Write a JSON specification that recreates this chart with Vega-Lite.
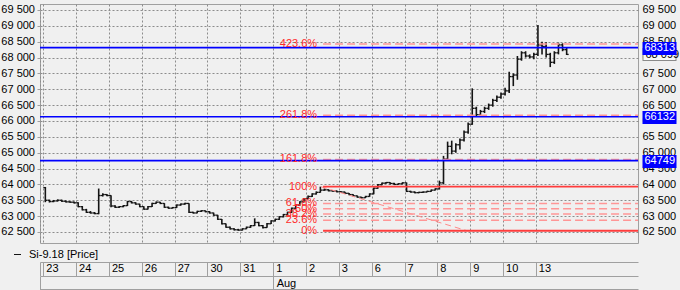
{
  "$schema": "https://vega.github.io/schema/vega-lite/v6.json",
  "width": 598,
  "height": 239,
  "autosize": {"type": "none"},
  "padding": {"left": 40, "top": 4, "right": 42, "bottom": 47},
  "background": "#f0f0f0",
  "config": {
    "font": "Liberation Sans",
    "view": {"stroke": "#a0a0a0", "strokeWidth": 1},
    "axis": {"labelFontSize": 11, "labelColor": "#000000", "labelOverlap": false, "labelFlush": false, "labelBound": false, "tickColor": "#a0a0a0", "domainColor": "#a0a0a0", "gridColor": "#8c8c8c", "gridDash": [2, 2], "grid": false}
  },
  "datasets": {
    "bars": [
      {"t":0.0625,"o":63900,"h":63920,"l":63440,"c":63500},
      {"t":0.1875,"o":63500,"h":63520,"l":63430,"c":63460},
      {"t":0.3125,"o":63460,"h":63510,"l":63440,"c":63480},
      {"t":0.4375,"o":63480,"h":63530,"l":63460,"c":63500},
      {"t":0.5625,"o":63500,"h":63520,"l":63450,"c":63470},
      {"t":0.6875,"o":63470,"h":63490,"l":63430,"c":63450},
      {"t":0.8125,"o":63450,"h":63470,"l":63420,"c":63440},
      {"t":0.9375,"o":63440,"h":63460,"l":63400,"c":63420},
      {"t":1.0625,"o":63420,"h":63440,"l":63280,"c":63300},
      {"t":1.1875,"o":63300,"h":63320,"l":63180,"c":63200},
      {"t":1.3125,"o":63200,"h":63230,"l":63100,"c":63120},
      {"t":1.4375,"o":63120,"h":63160,"l":63080,"c":63100},
      {"t":1.5625,"o":63100,"h":63130,"l":63060,"c":63080},
      {"t":1.6875,"o":63080,"h":63870,"l":63060,"c":63650},
      {"t":1.8125,"o":63650,"h":63720,"l":63620,"c":63680},
      {"t":1.9375,"o":63680,"h":63700,"l":63630,"c":63650},
      {"t":2.0625,"o":63650,"h":63660,"l":63280,"c":63320},
      {"t":2.1875,"o":63320,"h":63340,"l":63260,"c":63280},
      {"t":2.3125,"o":63280,"h":63320,"l":63260,"c":63300},
      {"t":2.4375,"o":63300,"h":63350,"l":63280,"c":63330},
      {"t":2.5625,"o":63330,"h":63480,"l":63320,"c":63460},
      {"t":2.6875,"o":63460,"h":63480,"l":63400,"c":63420},
      {"t":2.8125,"o":63420,"h":63440,"l":63360,"c":63380},
      {"t":2.9375,"o":63380,"h":63390,"l":63280,"c":63300},
      {"t":3.0625,"o":63300,"h":63310,"l":63200,"c":63220},
      {"t":3.1875,"o":63220,"h":63320,"l":63210,"c":63300},
      {"t":3.3125,"o":63300,"h":63420,"l":63290,"c":63400},
      {"t":3.4375,"o":63400,"h":63460,"l":63390,"c":63440},
      {"t":3.5625,"o":63440,"h":63450,"l":63380,"c":63400},
      {"t":3.6875,"o":63400,"h":63410,"l":63260,"c":63280},
      {"t":3.8125,"o":63280,"h":63300,"l":63230,"c":63250},
      {"t":3.9375,"o":63250,"h":63290,"l":63240,"c":63270},
      {"t":4.0625,"o":63270,"h":63370,"l":63260,"c":63350},
      {"t":4.1875,"o":63350,"h":63400,"l":63330,"c":63380},
      {"t":4.3125,"o":63380,"h":63420,"l":63360,"c":63400},
      {"t":4.4375,"o":63400,"h":63410,"l":63100,"c":63120},
      {"t":4.5625,"o":63120,"h":63140,"l":63080,"c":63100},
      {"t":4.6875,"o":63100,"h":63170,"l":63090,"c":63150},
      {"t":4.8125,"o":63150,"h":63190,"l":63130,"c":63170},
      {"t":4.9375,"o":63170,"h":63180,"l":63120,"c":63140},
      {"t":5.0625,"o":63140,"h":63160,"l":63080,"c":63100},
      {"t":5.1875,"o":63100,"h":63110,"l":63010,"c":63030},
      {"t":5.3125,"o":63030,"h":63040,"l":62880,"c":62900},
      {"t":5.4375,"o":62900,"h":62910,"l":62740,"c":62760},
      {"t":5.5625,"o":62760,"h":62770,"l":62630,"c":62650},
      {"t":5.6875,"o":62650,"h":62670,"l":62580,"c":62600},
      {"t":5.8125,"o":62600,"h":62620,"l":62550,"c":62570},
      {"t":5.9375,"o":62570,"h":62600,"l":62540,"c":62560},
      {"t":6.0625,"o":62560,"h":62620,"l":62545,"c":62600},
      {"t":6.1875,"o":62600,"h":62670,"l":62590,"c":62650},
      {"t":6.3125,"o":62650,"h":62720,"l":62630,"c":62700},
      {"t":6.4375,"o":62700,"h":62930,"l":62690,"c":62800},
      {"t":6.5625,"o":62800,"h":62820,"l":62680,"c":62700},
      {"t":6.6875,"o":62700,"h":62720,"l":62610,"c":62640},
      {"t":6.8125,"o":62640,"h":62780,"l":62630,"c":62760},
      {"t":6.9375,"o":62760,"h":62870,"l":62750,"c":62850},
      {"t":7.0625,"o":62850,"h":62920,"l":62830,"c":62900},
      {"t":7.1875,"o":62900,"h":63000,"l":62880,"c":62980},
      {"t":7.3125,"o":62980,"h":63070,"l":62960,"c":63050},
      {"t":7.4375,"o":63050,"h":63140,"l":63030,"c":63120},
      {"t":7.5625,"o":63120,"h":63270,"l":63100,"c":63250},
      {"t":7.6875,"o":63250,"h":63370,"l":63230,"c":63350},
      {"t":7.8125,"o":63350,"h":63470,"l":63330,"c":63450},
      {"t":7.9375,"o":63450,"h":63570,"l":63430,"c":63550},
      {"t":8.0625,"o":63550,"h":63650,"l":63530,"c":63620},
      {"t":8.1875,"o":63620,"h":63720,"l":63600,"c":63700},
      {"t":8.3125,"o":63700,"h":63780,"l":63680,"c":63750},
      {"t":8.4375,"o":63750,"h":63930,"l":63740,"c":63820},
      {"t":8.5625,"o":63820,"h":63870,"l":63800,"c":63830},
      {"t":8.6875,"o":63830,"h":63850,"l":63780,"c":63800},
      {"t":8.8125,"o":63800,"h":63820,"l":63770,"c":63790},
      {"t":8.9375,"o":63790,"h":63810,"l":63750,"c":63770},
      {"t":9.0625,"o":63770,"h":63790,"l":63740,"c":63760},
      {"t":9.1875,"o":63760,"h":63770,"l":63700,"c":63720},
      {"t":9.3125,"o":63720,"h":63730,"l":63660,"c":63680},
      {"t":9.4375,"o":63680,"h":63690,"l":63620,"c":63640},
      {"t":9.5625,"o":63640,"h":63650,"l":63580,"c":63600},
      {"t":9.6875,"o":63600,"h":63610,"l":63550,"c":63580},
      {"t":9.8125,"o":63580,"h":63640,"l":63570,"c":63620},
      {"t":9.9375,"o":63620,"h":63720,"l":63610,"c":63700},
      {"t":10.0625,"o":63700,"h":63900,"l":63690,"c":63880},
      {"t":10.1875,"o":63880,"h":64010,"l":63860,"c":63990},
      {"t":10.3125,"o":63990,"h":64060,"l":63970,"c":64040},
      {"t":10.4375,"o":64040,"h":64080,"l":64020,"c":64060},
      {"t":10.5625,"o":64060,"h":64070,"l":64000,"c":64030},
      {"t":10.6875,"o":64030,"h":64050,"l":63980,"c":64000},
      {"t":10.8125,"o":64000,"h":64040,"l":63990,"c":64020},
      {"t":10.9375,"o":64020,"h":64070,"l":64000,"c":64050},
      {"t":11.0625,"o":64050,"h":64060,"l":63760,"c":63780},
      {"t":11.1875,"o":63780,"h":63800,"l":63740,"c":63760},
      {"t":11.3125,"o":63760,"h":63780,"l":63720,"c":63740},
      {"t":11.4375,"o":63740,"h":63770,"l":63720,"c":63750},
      {"t":11.5625,"o":63750,"h":63780,"l":63730,"c":63760},
      {"t":11.6875,"o":63760,"h":63800,"l":63750,"c":63780},
      {"t":11.8125,"o":63780,"h":63840,"l":63770,"c":63820},
      {"t":11.9375,"o":63820,"h":63880,"l":63810,"c":63860},
      {"t":12.0625,"o":63860,"h":64120,"l":63840,"c":64050},
      {"t":12.1875,"o":64050,"h":64900,"l":64000,"c":64800},
      {"t":12.3125,"o":64800,"h":65350,"l":64780,"c":65200},
      {"t":12.4375,"o":65200,"h":65380,"l":64950,"c":65050},
      {"t":12.5625,"o":65050,"h":65300,"l":65000,"c":65250},
      {"t":12.6875,"o":65250,"h":65450,"l":65100,"c":65400},
      {"t":12.8125,"o":65400,"h":65700,"l":65350,"c":65650},
      {"t":12.9375,"o":65650,"h":65950,"l":65600,"c":65900},
      {"t":13.0625,"o":65900,"h":67030,"l":65880,"c":66400},
      {"t":13.1875,"o":66400,"h":66450,"l":66130,"c":66200},
      {"t":13.3125,"o":66200,"h":66350,"l":66150,"c":66300},
      {"t":13.4375,"o":66300,"h":66450,"l":66250,"c":66400},
      {"t":13.5625,"o":66400,"h":66550,"l":66350,"c":66500},
      {"t":13.6875,"o":66500,"h":66700,"l":66450,"c":66650},
      {"t":13.8125,"o":66650,"h":66800,"l":66600,"c":66750},
      {"t":13.9375,"o":66750,"h":66900,"l":66700,"c":66850},
      {"t":14.0625,"o":66850,"h":67050,"l":66800,"c":66950},
      {"t":14.1875,"o":66950,"h":67550,"l":66880,"c":67400},
      {"t":14.3125,"o":67400,"h":67500,"l":67100,"c":67450},
      {"t":14.4375,"o":67450,"h":68050,"l":67300,"c":67950},
      {"t":14.5625,"o":67950,"h":68200,"l":67900,"c":68150},
      {"t":14.6875,"o":68150,"h":68200,"l":68000,"c":68050},
      {"t":14.8125,"o":68050,"h":68100,"l":67980,"c":68020},
      {"t":14.9375,"o":68020,"h":68150,"l":67950,"c":68100},
      {"t":15.0625,"o":68100,"h":69030,"l":68050,"c":68400},
      {"t":15.1875,"o":68400,"h":68500,"l":68100,"c":68350},
      {"t":15.3125,"o":68350,"h":68480,"l":68000,"c":68100},
      {"t":15.4375,"o":68100,"h":68150,"l":67700,"c":67850},
      {"t":15.5625,"o":67850,"h":68200,"l":67800,"c":68150},
      {"t":15.6875,"o":68150,"h":68470,"l":68100,"c":68400},
      {"t":15.8125,"o":68400,"h":68450,"l":68200,"c":68250},
      {"t":15.9375,"o":68250,"h":68300,"l":68080,"c":68099}
    ],
    "blue": [{"level": 68313}, {"level": 66132}, {"level": 64749}],
    "fib": [
      {"label": "423.6%", "level": 68428},
      {"label": "261.8%", "level": 66179},
      {"label": "161.8%", "level": 64789},
      {"label": "100%", "level": 63930},
      {"label": "61.8%", "level": 63399},
      {"label": "50%", "level": 63235},
      {"label": "38.2%", "level": 63071},
      {"label": "23.6%", "level": 62868},
      {"label": "0%", "level": 62540}
    ],
    "diag": [{"t1": 8.45, "p1": 63930, "t2": 12.9, "p2": 62540}]
  },
  "resolve": {"axis": {"x": "independent", "y": "independent"}},
  "layer": [
    {
      "data": {"name": "bars"},
      "mark": {"type": "rule", "strokeWidth": 1.6},
      "encoding": {
        "x": {"field": "t", "type": "quantitative", "title": null,
          "scale": {"domain": [-0.1, 18.11], "nice": false, "zero": false},
          "axis": {"orient": "bottom", "values": [-0.1,0,1,2,3,4,5,6,7,8,9,10,11,12,13,14,15], "grid": true, "offset": 19, "domain": true, "tickSize": 13.5, "labelAlign": "left", "labelBaseline": "middle", "labelPadding": -7.2, "labelOffset": 2.5,
            "labelExpr": "datum.value < 0 ? '' : ['23','24','25','26','27','30','31','1','2','3','6','7','8','9','10','13'][round(datum.value)]"}},
        "y": {"field": "l", "type": "quantitative", "title": null,
          "scale": {"domain": [62153, 69689], "nice": false, "zero": false},
          "axis": {"orient": "left", "values": [62500,63000,63500,64000,64500,65000,65500,66000,66500,67000,67500,68000,68500,69000,69500], "grid": true, "domain": false, "tickSize": 3, "labelPadding": 2.5,
            "labelExpr": "replace(format(datum.value, ','), ',', ' ')"}},
        "y2": {"field": "h"},
        "color": {"datum": "Si-9.18 [Price]", "type": "nominal", "scale": {"range": ["#141414"]},
          "legend": {"orient": "none", "legendX": -28, "legendY": 245, "title": null, "symbolType": "stroke", "symbolSize": 49, "symbolStrokeWidth": 1, "symbolStrokeColor": "#333333", "labelFontSize": 11, "labelColor": "#000000", "labelOffset": 6}}
      }
    },
    {
      "data": {"name": "bars"},
      "mark": {"type": "rule", "xOffset": -2, "strokeWidth": 1.3, "color": "#141414"},
      "encoding": {
        "x": {"field": "t", "type": "quantitative", "title": null,
          "axis": {"orient": "bottom", "values": [-0.1, 7], "grid": false, "offset": 33, "domain": true, "tickSize": 14, "labelAlign": "left", "labelBaseline": "middle", "labelPadding": -6.7, "labelOffset": 3,
            "labelExpr": "datum.value == 7 ? 'Aug' : ''"}},
        "x2": {"field": "t"},
        "y": {"field": "o", "type": "quantitative", "title": null,
          "axis": {"orient": "right", "values": [62500,63000,63500,64000,64500,65000,65500,66000,66500,67000,67500,68000,68500,69000,69500], "grid": false, "domain": false, "ticks": false, "tickSize": 0, "labelPadding": 4, "labelAlign": "left",
            "labelExpr": "replace(format(datum.value, ','), ',', ' ')"}}
      }
    },
    {
      "data": {"name": "bars"},
      "mark": {"type": "rule", "x2Offset": 2, "strokeWidth": 1.3, "color": "#141414"},
      "encoding": {
        "x": {"field": "t", "type": "quantitative", "title": null,
          "axis": {"orient": "bottom", "offset": 46, "domain": true, "ticks": false, "labels": false, "grid": false}},
        "x2": {"field": "t"},
        "y": {"field": "c", "type": "quantitative", "title": null,
          "axis": {"orient": "right", "values": [68099], "offset": 4, "grid": false, "domain": false, "tickSize": 34, "tickWidth": 13, "tickColor": "#8a8a8a", "labels": false, "zindex": 1}}
      }
    },
    {
      "data": {"name": "diag"},
      "mark": {"type": "rule", "color": "#ff8a8a", "strokeWidth": 1, "strokeDash": [6, 4]},
      "encoding": {
        "x": {"field": "t1", "type": "quantitative", "axis": null},
        "x2": {"field": "t2"},
        "y": {"field": "p1", "type": "quantitative", "axis": null},
        "y2": {"field": "p2"}
      }
    },
    {
      "data": {"name": "fib"},
      "transform": [{"filter": {"not": {"field": "label", "oneOf": ["100%", "0%"]}}}],
      "mark": {"type": "rule", "color": "#ff9696", "strokeWidth": 1.5, "strokeDash": [8, 4]},
      "encoding": {
        "x": {"datum": 8.52, "type": "quantitative", "axis": null},
        "x2": {"datum": 18.11},
        "y": {"field": "level", "type": "quantitative", "title": null,
          "axis": {"orient": "right", "values": [68099], "offset": 5, "grid": false, "domain": false, "tickSize": 32, "tickWidth": 11, "tickColor": "#f8f8f8", "labelPadding": -30, "labelAlign": "left", "labelColor": "#000000", "zindex": 2,
            "labelExpr": "replace(format(datum.value, ','), ',', ' ')"}}
      }
    },
    {
      "data": {"name": "fib"},
      "transform": [{"filter": {"field": "label", "oneOf": ["100%", "0%"]}}],
      "mark": {"type": "rule", "color": "#ff3c3c", "strokeWidth": 1.8},
      "encoding": {
        "x": {"datum": 8.52, "type": "quantitative", "axis": null},
        "x2": {"datum": 18.11},
        "y": {"field": "level", "type": "quantitative", "axis": null}
      }
    },
    {
      "data": {"name": "blue"},
      "mark": {"type": "rule", "color": "#0000ff", "strokeWidth": 1.6},
      "encoding": {
        "y": {"field": "level", "type": "quantitative", "title": null,
          "axis": {"orient": "right", "values": [68313, 66132, 64749], "offset": 4, "grid": false, "domain": false, "tickSize": 34, "tickWidth": 13, "tickColor": "#0000ff", "labelPadding": -32, "labelAlign": "left", "labelColor": "#ffffff", "format": "d", "zindex": 3}}
      }
    },
    {
      "data": {"name": "fib"},
      "mark": {"type": "text", "align": "right", "baseline": "middle", "dx": -6, "fontSize": 11, "color": "#ff2a2a"},
      "encoding": {
        "x": {"datum": 8.52, "type": "quantitative", "axis": null},
        "y": {"field": "level", "type": "quantitative", "axis": null},
        "text": {"field": "label"}
      }
    }
  ]
}
